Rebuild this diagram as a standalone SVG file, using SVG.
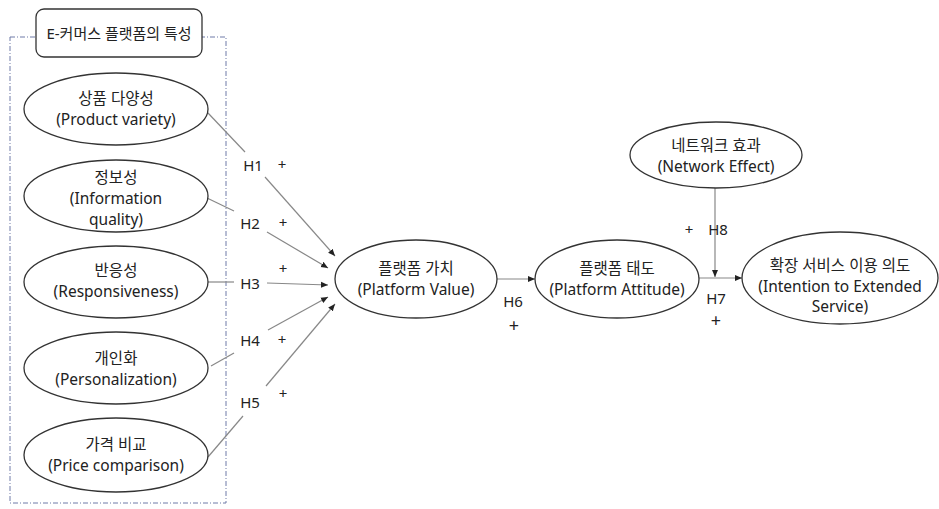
<svg xmlns="http://www.w3.org/2000/svg" width="939" height="509" viewBox="0 0 939 509">
<style>
text{font-family:"Noto Sans","Noto Sans CJK KR",sans-serif;font-size:15.5px;fill:#222;text-anchor:middle;dominant-baseline:central}
.t{font-size:15px}
.lbl{font-size:15px}
.p{font-size:15px}
.pb{font-size:18px}
.node{fill:#fff;stroke:#333;stroke-width:1.3}
.c{stroke:#888;stroke-width:1.2;fill:none}
.a{marker-end:url(#ah)}
</style>
<defs>
<marker id="ah" markerWidth="8" markerHeight="8" refX="7" refY="4" orient="auto" markerUnits="userSpaceOnUse">
<path d="M0,1 L7,4 L0,7 Z" fill="#222"/>
</marker>
</defs>
<rect width="939" height="509" fill="#fff"/>
<g id="group-box">
<rect x="10" y="37" width="216" height="466" fill="none" stroke="#6f7aa8" stroke-width="1" stroke-dasharray="5,2,1,2"/>
</g>
<g id="title">
<rect x="36" y="9" width="166" height="48" rx="8" fill="#fff" stroke="#333" stroke-width="1.3"/>
<text class="t" x="119" y="33">E-커머스 플랫폼의 특성</text>
</g>
<g id="connectors">
<line class="c" x1="208" y1="113" x2="245" y2="152"/>
<line class="c a" x1="265" y1="177" x2="335" y2="256"/>
<line class="c" x1="207" y1="198" x2="234" y2="211"/>
<line class="c a" x1="267" y1="232" x2="328" y2="268"/>
<line class="c" x1="208" y1="282" x2="234" y2="282"/>
<line class="c a" x1="267" y1="283" x2="328" y2="285"/>
<line class="c" x1="211" y1="366" x2="234" y2="353"/>
<line class="c a" x1="268" y1="330" x2="328" y2="297"/>
<line class="c" x1="208" y1="457" x2="243" y2="416"/>
<line class="c a" x1="266" y1="386" x2="335" y2="304"/>
<line class="c a" x1="497" y1="279" x2="535" y2="279"/>
<line class="c a" x1="699" y1="278" x2="742" y2="278"/>
<line class="c a" x1="715" y1="188" x2="715" y2="277"/>
</g>
<g id="labels">
<text class="lbl" x="253" y="165">H1</text><text class="p" x="282" y="164">+</text>
<text class="lbl" x="250" y="223">H2</text><text class="p" x="283" y="222">+</text>
<text class="lbl" x="250" y="283">H3</text><text class="p" x="283" y="268">+</text>
<text class="lbl" x="250" y="340">H4</text><text class="p" x="282" y="339">+</text>
<text class="lbl" x="250" y="402">H5</text><text class="p" x="283" y="393">+</text>
<text class="lbl" x="513" y="301">H6</text><text class="pb" x="514" y="325">+</text>
<text class="lbl" x="716" y="298">H7</text><text class="pb" x="716" y="320">+</text>
<text class="lbl" x="718" y="229">H8</text><text class="p" x="689" y="229">+</text>
</g>
<g id="n1">
<ellipse class="node" cx="116" cy="109" rx="92" ry="36"/>
<text x="116" y="98">상품 다양성</text>
<text x="116" y="119">(Product variety)</text>
</g>
<g id="n2">
<ellipse class="node" cx="116" cy="196" rx="92" ry="36"/>
<text x="116" y="177">정보성</text>
<text x="116" y="198">(Information</text>
<text x="116" y="219">quality)</text>
</g>
<g id="n3">
<ellipse class="node" cx="116" cy="282" rx="92" ry="36"/>
<text x="116" y="270">반응성</text>
<text x="116" y="291">(Responsiveness)</text>
</g>
<g id="n4">
<ellipse class="node" cx="116" cy="368" rx="92" ry="36"/>
<text x="116" y="358">개인화</text>
<text x="116" y="379">(Personalization)</text>
</g>
<g id="n5">
<ellipse class="node" cx="116" cy="455" rx="92" ry="37"/>
<text x="116" y="444">가격 비교</text>
<text x="116" y="465">(Price comparison)</text>
</g>
<g id="platform-value">
<ellipse class="node" cx="416" cy="279" rx="81" ry="39"/>
<text x="416" y="268">플랫폼 가치</text>
<text x="416" y="289">(Platform Value)</text>
</g>
<g id="platform-attitude">
<ellipse class="node" cx="617" cy="279" rx="82" ry="39"/>
<text x="617" y="268">플랫폼 태도</text>
<text x="617" y="289">(Platform Attitude)</text>
</g>
<g id="network-effect">
<ellipse class="node" cx="716" cy="155" rx="86" ry="33"/>
<text x="716" y="145">네트워크 효과</text>
<text x="716" y="166">(Network Effect)</text>
</g>
<g id="intention">
<ellipse class="node" cx="840" cy="278" rx="98" ry="46"/>
<text x="840" y="265">확장 서비스 이용 의도</text>
<text x="840" y="286">(Intention to Extended</text>
<text x="840" y="306">Service)</text>
</g>
</svg>
